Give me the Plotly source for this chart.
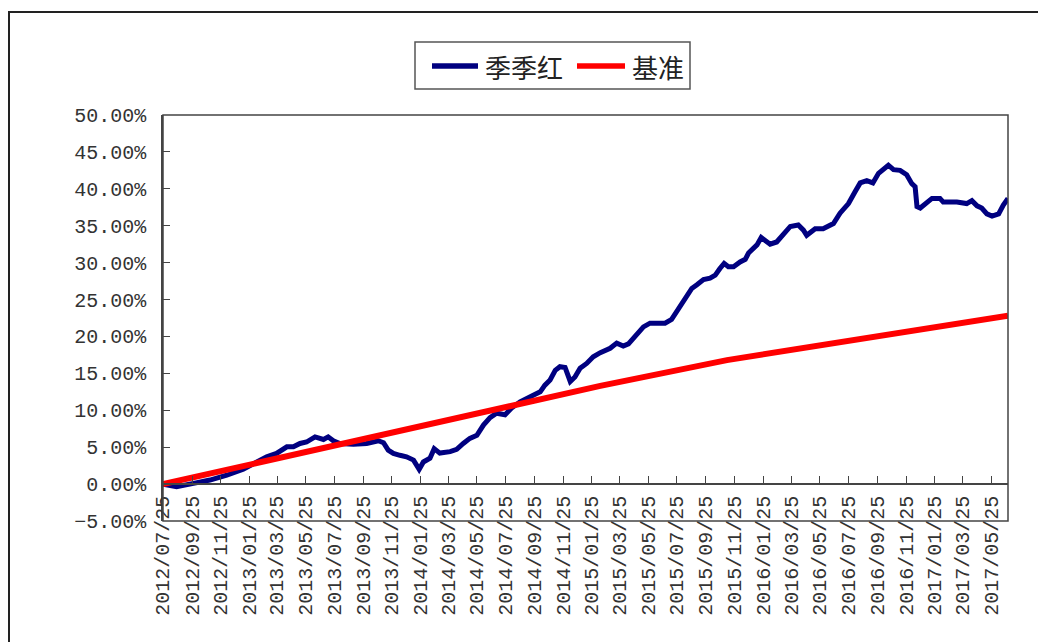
import plotly.graph_objects as go

# ---------------- data ----------------
series_names = ["季季红", "基准"]
series_colors = ["#000080", "#FF0000"]

fund_dates = [
    "2012-07-25", "2012-08-23", "2012-09-28", "2012-11-02", "2012-12-08", "2013-01-12",
    "2013-02-10", "2013-03-03", "2013-03-24", "2013-04-15", "2013-04-29", "2013-05-13",
    "2013-05-27", "2013-06-14", "2013-07-02", "2013-07-12", "2013-07-23", "2013-08-06",
    "2013-09-04", "2013-10-02", "2013-10-27", "2013-11-07", "2013-11-17", "2013-11-28",
    "2013-12-12", "2013-12-26", "2014-01-10", "2014-01-17", "2014-01-22", "2014-01-31",
    "2014-02-14", "2014-02-23", "2014-03-07", "2014-03-29", "2014-04-12", "2014-04-26",
    "2014-05-10", "2014-05-25", "2014-06-08", "2014-06-22", "2014-07-06", "2014-07-24",
    "2014-08-07", "2014-08-25", "2014-09-15", "2014-10-07", "2014-10-17", "2014-10-28",
    "2014-11-08", "2014-11-18", "2014-11-29", "2014-12-04", "2014-12-10", "2014-12-20",
    "2014-12-31", "2015-01-14", "2015-01-28", "2015-02-12", "2015-03-05", "2015-03-19",
    "2015-04-02", "2015-04-13", "2015-04-27", "2015-05-15", "2015-05-29", "2015-06-16",
    "2015-06-30", "2015-07-14", "2015-07-28", "2015-08-12", "2015-08-26", "2015-09-06",
    "2015-09-20", "2015-10-04", "2015-10-15", "2015-10-25", "2015-11-03", "2015-11-12",
    "2015-11-23", "2015-12-07", "2015-12-18", "2015-12-25", "2016-01-04", "2016-01-12",
    "2016-01-21", "2016-01-29", "2016-02-09", "2016-02-23", "2016-03-08", "2016-03-23",
    "2016-04-09", "2016-04-20", "2016-04-27", "2016-05-15", "2016-06-01", "2016-06-23",
    "2016-07-07", "2016-07-25", "2016-08-08", "2016-08-19", "2016-09-02", "2016-09-15",
    "2016-09-27", "2016-10-11", "2016-10-18", "2016-10-29", "2016-11-12", "2016-11-26",
    "2016-12-07", "2016-12-14", "2016-12-18", "2016-12-25", "2017-01-04", "2017-01-19",
    "2017-02-05", "2017-02-12", "2017-03-13", "2017-04-03", "2017-04-14", "2017-04-25",
    "2017-05-05", "2017-05-16", "2017-05-27", "2017-06-10", "2017-06-20", "2017-06-30",
]
fund_values = [
    0.00, -0.35, 0.10, 0.55, 1.20, 2.00,
    3.00, 3.70, 4.15, 5.05, 5.05, 5.50,
    5.70, 6.40, 6.05, 6.40, 5.87, 5.50,
    5.40, 5.50, 5.87, 5.60, 4.60, 4.15,
    3.90, 3.70, 3.25, 2.60, 2.00, 3.00,
    3.50, 4.80, 4.20, 4.40, 4.70, 5.50,
    6.20, 6.60, 8.00, 9.00, 9.60, 9.40,
    10.30, 11.15, 11.80, 12.50, 13.40, 14.10,
    15.40, 15.90, 15.80, 15.00, 13.90, 14.50,
    15.70, 16.35, 17.25, 17.80, 18.40, 19.10,
    18.70, 19.00, 19.95, 21.30, 21.80, 21.85,
    21.80, 22.30, 23.60, 25.20, 26.50, 27.00,
    27.70, 27.90, 28.30, 29.20, 29.90, 29.45,
    29.45, 30.10, 30.45, 31.30, 31.80, 32.40,
    33.40, 33.10, 32.50, 32.80, 33.80, 34.90,
    35.10, 34.40, 33.70, 34.60, 34.60, 35.30,
    36.70, 38.00, 39.60, 40.80, 41.10, 40.80,
    42.10, 42.90, 43.20, 42.60, 42.50, 41.90,
    40.70, 40.30, 37.60, 37.40, 38.00, 38.70,
    38.70, 38.20, 38.20, 38.00, 38.40, 37.70,
    37.40, 36.60, 36.30, 36.60, 37.80, 38.70,
]

bench_dates = ["2012-07-25", "2013-11-21", "2015-02-12", "2015-11-09", "2016-05-04", "2017-06-30"]
bench_values = [0.00, 6.80, 13.30, 16.80, 18.60, 22.80]

tick_dates = [
    "2012-07-25", "2012-09-25", "2012-11-25", "2013-01-25", "2013-03-25", "2013-05-25",
    "2013-07-25", "2013-09-25", "2013-11-25", "2014-01-25", "2014-03-25", "2014-05-25",
    "2014-07-25", "2014-09-25", "2014-11-25", "2015-01-25", "2015-03-25", "2015-05-25",
    "2015-07-25", "2015-09-25", "2015-11-25", "2016-01-25", "2016-03-25", "2016-05-25",
    "2016-07-25", "2016-09-25", "2016-11-25", "2017-01-25", "2017-03-25", "2017-05-25",
]
tick_labels = [d.replace("-", "/") for d in tick_dates]

x_range = ["2012-07-25", "2017-06-30"]
y_range = [-5, 50]

# ---------------- layout geometry (figure pixels) ----------------
W, H = 1038, 634
ML, MR, MT, MB = 155, 38, 107, 121
PW, PH = W - ML - MR, H - MT - MB


def px(x):
    return (x - ML) / PW


def py(y):
    return (H - MB - y) / PH


# ---------------- figure ----------------
tick_font = dict(family="Liberation Mono, DejaVu Sans Mono, monospace", size=20, color="#333333")

fig = go.Figure()
fig.add_trace(go.Scatter(
    x=fund_dates, y=fund_values, mode="lines", name=series_names[0],
    line=dict(color=series_colors[0], width=5), showlegend=False,
))
fig.add_trace(go.Scatter(
    x=bench_dates, y=bench_values, mode="lines", name=series_names[1],
    line=dict(color=series_colors[1], width=6), showlegend=False,
))

zero_pos = (0 - y_range[0]) / (y_range[1] - y_range[0])

# legend drawn as box + sample lines + text
leg_y = 58
legend_items = [(424, 470, 475), (569, 617, 622)]
shapes = [
    dict(type="rect", xref="x domain", yref="y domain", x0=0, x1=1, y0=0, y1=1,
         line=dict(color="#444444", width=1.5), fillcolor="rgba(0,0,0,0)", layer="above"),
    dict(type="rect", xref="paper", yref="paper", x0=px(1), x1=px(W + 20), y0=py(H + 20), y1=py(4),
         line=dict(color="#222222", width=2), fillcolor="rgba(0,0,0,0)", layer="below"),
    dict(type="rect", xref="paper", yref="paper", x0=px(407), x1=px(682), y0=py(81), y1=py(34),
         line=dict(color="#555555", width=1.5), fillcolor="white", layer="below"),
]
annotations = []
for (x0, x1, xt), name, color in zip(legend_items, series_names, series_colors):
    shapes.append(dict(type="line", xref="paper", yref="paper", x0=px(x0), x1=px(x1),
                       y0=py(leg_y), y1=py(leg_y), line=dict(color=color, width=5.5)))
    annotations.append(dict(xref="paper", yref="paper", x=px(xt), y=py(leg_y), text=name,
                            showarrow=False, xanchor="left", yanchor="middle",
                            font=dict(family="Noto Sans CJK SC", size=26, color="#222222")))

fig.update_layout(
    width=W, height=H,
    margin=dict(l=ML, r=MR, t=MT, b=MB),
    paper_bgcolor="white", plot_bgcolor="white",
    showlegend=False,
    xaxis=dict(
        type="date", range=x_range, anchor="free", position=zero_pos,
        tickmode="array", tickvals=tick_dates, ticktext=tick_labels,
        tickangle=-90, ticks="inside", ticklen=7, tickwidth=1.2, tickcolor="#444444",
        showline=True, linecolor="#444444", linewidth=1.5,
        showgrid=False, zeroline=False, tickfont=tick_font,
        ticklabelstandoff=3,
    ),
    yaxis=dict(
        range=y_range, dtick=5, tick0=0, tickformat=".2f", ticksuffix="%",
        ticks="inside", ticklen=7, tickwidth=1.2, tickcolor="#444444",
        showline=True, linecolor="#444444", linewidth=1.5,
        showgrid=False, zeroline=False, tickfont=tick_font,
        ticklabelstandoff=11,
    ),
    shapes=shapes,
    annotations=annotations,
)

fig.write_html("out.html")
